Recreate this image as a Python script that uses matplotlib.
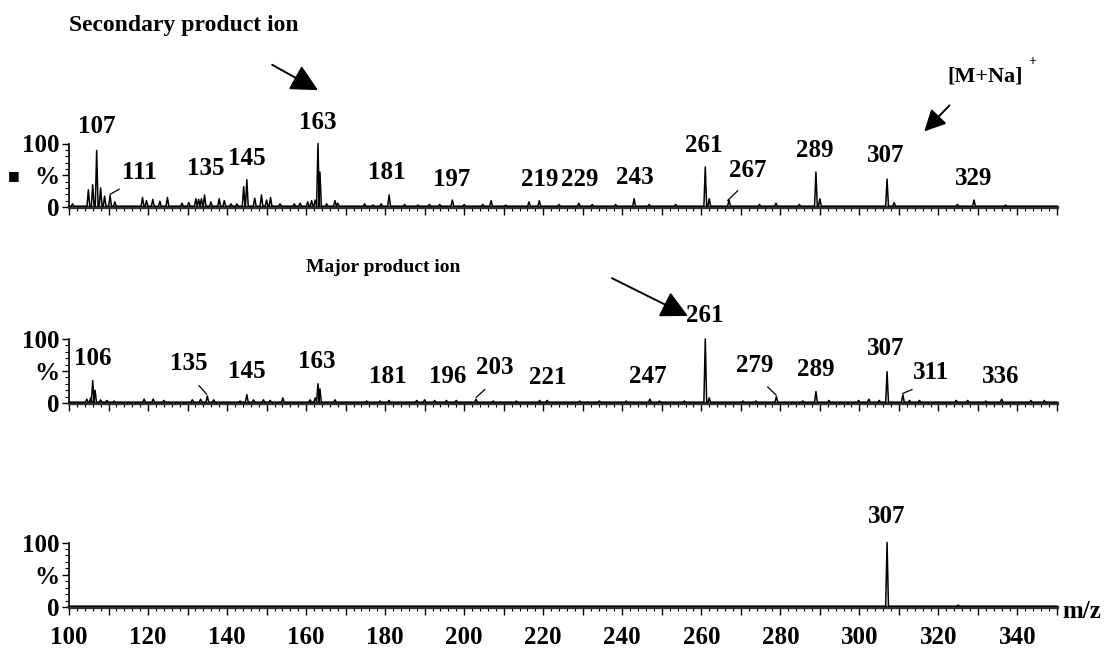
import matplotlib
matplotlib.use("Agg")
import matplotlib.pyplot as plt
from matplotlib.ticker import MultipleLocator, FixedLocator

# ---- spectrum data (m/z, relative intensity %) ----
sec_mz = [100.9, 104.9, 106.0, 107.0, 108.0, 109.0, 110.4, 111.6, 118.6, 119.6,
          121.2, 123.0, 124.9, 128.6, 130.3, 132.1, 132.8, 133.5, 134.3, 135.9,
          138.0, 139.3, 141.0, 142.5, 144.2, 145.0, 147.0, 148.7, 150.0, 151.0,
          153.4, 157.0, 158.5, 160.4, 161.4, 162.3, 163.0, 163.5, 165.2, 167.3,
          168.0, 174.8, 176.9, 179.0, 181.0, 184.9, 188.3, 191.2, 193.8, 197.0,
          200.0, 204.7, 206.8, 210.5, 216.4, 219.0, 224.0, 229.0, 232.4, 238.3,
          243.0, 246.8, 253.5, 261.0, 262.0, 267.0, 274.7, 278.9, 284.8, 289.0,
          290.0, 307.0, 308.8, 324.8, 329.0, 337.0]
sec_int = [5, 27, 35, 89, 30, 17, 18, 8, 15, 10,
           12, 9, 15, 6, 7, 13, 12, 13, 19, 8,
           13, 10, 5, 5, 32, 43, 14, 19, 11, 15,
           5, 5, 6, 8, 10, 11, 100, 55, 5, 10,
           6, 5, 3, 5, 19, 4, 3, 4, 4, 11,
           4, 4, 10, 3, 8, 10, 4, 6, 4, 4,
           13, 4, 4, 63, 13, 11, 4, 6, 4, 55,
           13, 44, 7, 4, 11, 3]

maj_mz = [104.5, 105.5, 106.0, 106.6, 108.0, 109.6, 111.4, 119.0, 121.3, 124.0,
          131.2, 133.3, 135.0, 136.6, 143.3, 145.0, 146.7, 149.2, 150.9, 154.1,
          161.0, 162.3, 163.0, 163.5, 167.3, 175.3, 178.7, 181.0, 188.0, 190.0,
          192.5, 195.5, 198.0, 203.0, 207.3, 213.2, 219.1, 221.0, 229.2, 234.2,
          241.0, 247.0, 249.4, 255.7, 261.0, 262.0, 270.5, 273.8, 279.0, 285.7,
          289.0, 292.3, 299.8, 302.4, 305.0, 307.0, 311.0, 312.7, 315.2, 324.5,
          327.4, 332.0, 336.0, 343.4, 346.8]
maj_int = [6, 8, 35, 20, 5, 4, 3, 6, 6, 4,
           5, 6, 11, 5, 3, 13, 5, 5, 4, 8,
           5, 8, 30, 22, 5, 3, 3, 4, 4, 5,
           4, 4, 4, 6, 3, 3, 4, 4, 3, 3,
           3, 6, 3, 3, 100, 8, 3, 3, 10, 3,
           18, 4, 4, 6, 4, 49, 13, 4, 4, 4,
           4, 3, 6, 4, 4]

prec_mz = [307.0, 325.0]
prec_int = [100, 3]

# ---- peak annotations: (text, m/z, y%) ----
sec_labels = [("107", 107.0, 127), ("111", 117.8, 54), ("135", 134.6, 60),
              ("145", 145.1, 76), ("163", 162.9, 133), ("181", 180.3, 55),
              ("197", 196.8, 44), ("219", 219.1, 44), ("229", 229.2, 44),
              ("243", 243.1, 47), ("261", 260.6, 97), ("267", 271.8, 58),
              ("289", 288.6, 89), ("307", 306.7, 81), ("329", 328.9, 45)]
maj_labels = [("106", 106.1, 70), ("135", 130.2, 61), ("145", 144.9, 49),
              ("163", 162.6, 65), ("181", 180.7, 41), ("196", 195.9, 41),
              ("203", 207.7, 56), ("221", 221.2, 40), ("247", 246.5, 41),
              ("261", 260.8, 137), ("279", 273.4, 59), ("289", 289.0, 53),
              ("307", 306.7, 85), ("311", 318.1, 47), ("336", 335.8, 42)]
prec_labels = [("307", 307.0, 141)]

# leader lines ((m1, y1), (m2, y2))
sec_leaders = [((110.4, 20), (112.7, 28)), ((266.7, 10.5), (269.2, 25.5))]
maj_leaders = [((134.8, 14), (132.9, 27)), ((203.1, 9), (205.2, 21)),
               ((278.9, 12.5), (276.8, 25)), ((311.0, 15), (313.3, 21))]

x_min, x_max = 100, 350
x_labels = list(range(100, 341, 20))

FONT = "Liberation Serif"
plt.rcParams["font.family"] = [FONT, "DejaVu Serif"]
plt.rcParams["font.weight"] = "bold"

fig = plt.figure(figsize=(11.06, 6.49), dpi=100)
W, H = 1106.0, 649.0

left = 69 / W
width = (1057 - 69) / W
panels = [
    (1 - 207 / H, 63.5 / H),
    (1 - 403 / H, 64 / H),
    (1 - 607 / H, 64.5 / H),
]


def profile(mz, inten, base=1.2, half=0.35):
    xs, ys = [x_min], [base]
    for m, h in sorted(zip(mz, inten)):
        xs += [m - half, m, m + half]
        ys += [base, h, base]
    xs.append(x_max)
    ys.append(base)
    return xs, ys


def style_axes(ax, show_labels):
    ax.set_xlim(x_min, x_max)
    ax.set_ylim(0, 100)
    for s in ("top", "right"):
        ax.spines[s].set_visible(False)
    ax.spines["bottom"].set_linewidth(2.4)
    ax.spines["bottom"].set_color("#303030")
    ax.spines["left"].set_linewidth(1.2)
    ax.xaxis.set_major_locator(MultipleLocator(10))
    ax.xaxis.set_minor_locator(MultipleLocator(2))
    ax.tick_params(axis="x", which="major", length=6, width=1.0, direction="out")
    ax.tick_params(axis="x", which="minor", length=3, width=0.8, direction="out")
    if show_labels:
        ticks = list(range(100, 351, 10))
        ax.set_xticks(ticks)
        ax.set_xticklabels([str(t) if t in x_labels else "" for t in ticks])
        ax.tick_params(axis="x", which="major", pad=7.5, labelsize=18)
    else:
        ax.set_xticklabels([])
    ax.yaxis.set_major_locator(FixedLocator([0, 50, 100]))
    ax.yaxis.set_minor_locator(MultipleLocator(10))
    ax.set_yticklabels(["0", "%", "100"])
    ax.tick_params(axis="y", which="major", length=5, width=1.0, pad=2,
                   labelsize=18)
    ax.tick_params(axis="y", which="minor", length=3, width=0.8)
    for lab in ax.get_xticklabels() + ax.get_yticklabels():
        lab.set_fontweight("bold")


series = [(sec_mz, sec_int, sec_labels, sec_leaders),
          (maj_mz, maj_int, maj_labels, maj_leaders),
          (prec_mz, prec_int, prec_labels, [])]

axes = []
for i, ((b, h), (mz, inten, labs, leads)) in enumerate(zip(panels, series)):
    ax = fig.add_axes([left, b, width, h])
    axes.append(ax)
    xs, ys = profile(mz, inten)
    ax.plot(xs, ys, color="black", lw=1.1, clip_on=False, zorder=3)
    style_axes(ax, i == 2)
    for txt, m, y in labs:
        ax.text(m, y, txt, ha="center", va="center", fontsize=18,
                fontweight="bold", clip_on=False)
    for (m1, y1), (m2, y2) in leads:
        ax.plot([m1, m2], [y1, y2], color="black", lw=0.9, clip_on=False)

ax_top, ax_mid, ax_bot = axes

arrow_kw = dict(arrowstyle="-|>,head_length=0.55,head_width=0.28",
                color="black", lw=1.4, mutation_scale=30,
                shrinkA=0, shrinkB=0)
small_arrow_kw = dict(arrow_kw, arrowstyle="-|>,head_length=0.5,head_width=0.25",
                      mutation_scale=26)
ax_top.annotate("", xy=(163.0, 184), xytext=(151.4, 224),
                arrowprops=arrow_kw, annotation_clip=False)
ax_top.annotate("", xy=(316.4, 119), xytext=(322.8, 160),
                arrowprops=small_arrow_kw, annotation_clip=False)
ax_mid.annotate("", xy=(256.6, 136), xytext=(237.4, 195),
                arrowprops=arrow_kw, annotation_clip=False)

# panel captions
fig.text(184 / W, 1 - 25 / H, "Secondary product ion", ha="center",
         va="center", fontsize=17, fontweight="bold")
fig.text(383 / W, 1 - 268 / H, "Major product ion", ha="center",
         va="center", fontsize=14, fontweight="bold")
fig.text(985 / W, 1 - 77 / H, "[M+Na]", ha="center", va="center",
         fontsize=16, fontweight="bold")
fig.text(1032 / W, 1 - 62 / H, "+", ha="center", va="center",
         fontsize=10, fontweight="bold")
fig.text(1082 / W, 1 - 611 / H, "m/z", ha="center", va="center",
         fontsize=18, fontweight="bold")
fig.text(14 / W, 1 - 176 / H, "\u25a0", ha="center", va="center",
         fontsize=9, family="DejaVu Sans")

fig.savefig("out.png", dpi=100, facecolor="white")
